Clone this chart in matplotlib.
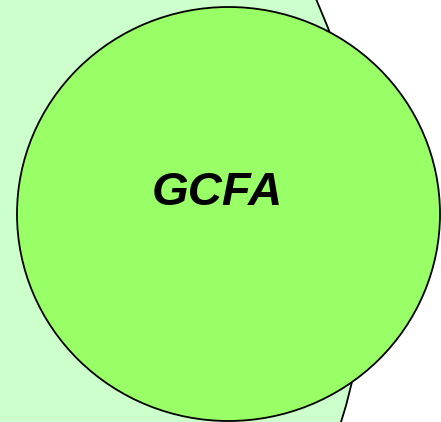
import matplotlib
matplotlib.use('Agg')
import matplotlib.pyplot as plt
from matplotlib.patches import Circle, Ellipse

# Etiquetas y colores del diagrama
etiquetas = ['GCFA']
color_fondo = '#CCFFCC'
color_circulo = '#99FF66'

# Geometría en píxeles (origen arriba a la izquierda)
centro_grande = (-235, 244)
radio_grande = 603
centro_gcfa = (228.5, 214)
ancho_gcfa = 423
alto_gcfa = 414

fig = plt.figure(figsize=(4.41, 4.22), dpi=100)
ax = fig.add_axes([0, 0, 1, 1])
ax.set_xlim(0, 441)
ax.set_ylim(422, 0)
ax.axis('off')

ax.add_patch(Circle(centro_grande, radio_grande, facecolor=color_fondo,
                    edgecolor='black', linewidth=1.3))
ax.add_patch(Ellipse(centro_gcfa, ancho_gcfa, alto_gcfa, facecolor=color_circulo,
                     edgecolor='black', linewidth=1.3))

ax.text(217.5, 193, etiquetas[0], ha='center', va='center', fontsize=34,
        fontweight='bold', fontstyle='italic', family='Liberation Sans')

plt.savefig('out.png', dpi=100)
